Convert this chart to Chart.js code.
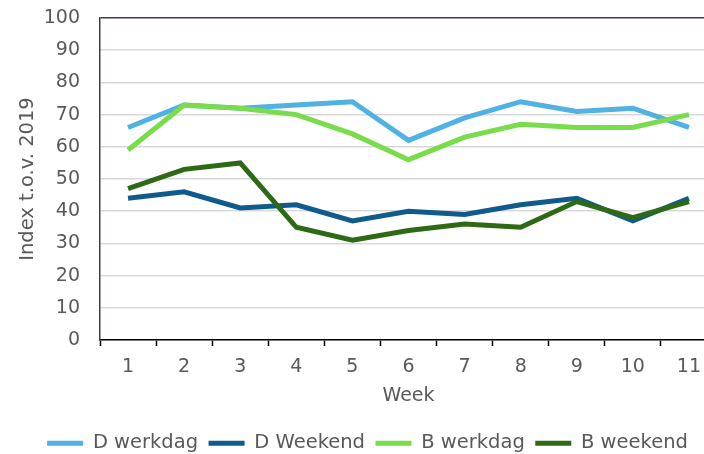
<!DOCTYPE html>
<html lang="nl">
<head>
<meta charset="utf-8">
<title>Index t.o.v. 2019 per week</title>
<script src="https://cdn.jsdelivr.net/npm/chart.js@4/dist/chart.umd.min.js"></script>
<style>
    html, body { margin: 0; padding: 0; background: #fff; overflow: hidden; }
    #wrap { width: 720px; height: 454px; }
</style>
</head>
<body>
<div id="wrap"><canvas id="weekChart" width="720" height="454"></canvas></div>
<script>
// Data
const weken = ['1', '2', '3', '4', '5', '6', '7', '8', '9', '10', '11'];
const dWerkdag = [66, 73, 72, 73, 74, 62, 69, 74, 71, 72, 66];
const dWeekend = [44, 46, 41, 42, 37, 40, 39, 42, 44, 37, 44];
const bWerkdag = [59, 73, 72, 70, 64, 56, 63, 67, 66, 66, 70];
const bWeekend = [47, 53, 55, 35, 31, 34, 36, 35, 43, 38, 43];
const seriesNamen = ['D werkdag', 'D Weekend', 'B werkdag', 'B weekend'];

const kleuren = ['#4fb1e4', '#0e5b8c', '#79dc4b', '#2e6a16'];
const tekstKleur = '#595959';
const asPaars = '#4a3457';
const fontFamily = '"DejaVu Sans", Verdana, sans-serif';

function maakLijn(i, data) {
    return {
        label: seriesNamen[i],
        data: data,
        borderColor: kleuren[i],
        backgroundColor: kleuren[i],
        borderWidth: 5,
        pointRadius: 0,
        tension: 0,
        order: 4 - i // latere reeks bovenop, zoals in Excel
    };
}

// Legenda iets naar rechts schuiven zodat hij gelijk valt met het origineel
const legendaShift = {
    id: 'legendaShift',
    afterLayout(chart) {
        chart.legend.left += 9;
        chart.legend.right += 9;
    }
};

document.addEventListener("DOMContentLoaded", () => {
    const ctx = document.getElementById('weekChart').getContext('2d');

    new Chart(ctx, {
        type: 'line',
        data: {
            labels: weken,
            datasets: [
                maakLijn(0, dWerkdag),
                maakLijn(1, dWeekend),
                maakLijn(2, bWerkdag),
                maakLijn(3, bWeekend)
            ]
        },
        plugins: [legendaShift],
        options: {
            responsive: false,
            animation: false,
            layout: { padding: { top: 18, right: 3, bottom: 0, left: 0 } },
            plugins: {
                tooltip: { enabled: false },
                legend: {
                    position: 'bottom',
                    maxHeight: 31,
                    labels: {
                        color: tekstKleur,
                        font: { family: fontFamily, size: 19.5 },
                        boxWidth: 36,
                        boxHeight: 5,
                        padding: 10.5,
                        sort: (a, b) => a.datasetIndex - b.datasetIndex,
                        generateLabels: (chart) => {
                            const items = Chart.defaults.plugins.legend.labels.generateLabels(chart);
                            items.forEach(it => { it.lineWidth = 0; });
                            return items;
                        }
                    }
                }
            },
            scales: {
                x: {
                    offset: true,
                    grid: {
                        offset: true,
                        drawOnChartArea: false,
                        drawTicks: true,
                        tickLength: 6,
                        tickColor: '#000',
                        tickWidth: 1.5
                    },
                    border: { color: '#000', width: 1.5 },
                    ticks: {
                        color: tekstKleur,
                        padding: 10,
                        maxRotation: 0,
                        font: { family: fontFamily, size: 19 }
                    },
                    title: {
                        display: true,
                        text: 'Week',
                        color: tekstKleur,
                        font: { family: fontFamily, size: 19 },
                        padding: { top: 0, bottom: 16 }
                    },
                    afterFit: (scale) => { scale.height = 83; }
                },
                y: {
                    min: 0,
                    max: 100,
                    ticks: {
                        stepSize: 10,
                        color: tekstKleur,
                        padding: 20,
                        font: { family: fontFamily, size: 19 }
                    },
                    grid: {
                        drawTicks: false,
                        color: (c) => c.tick && c.tick.value === 100 ? asPaars : '#d9d9d9',
                        lineWidth: 1.5
                    },
                    border: { color: asPaars, width: 1.5 },
                    title: {
                        display: true,
                        text: 'Index t.o.v. 2019',
                        color: tekstKleur,
                        font: { family: fontFamily, size: 19.5 },
                        padding: { top: 16, bottom: 0 }
                    },
                    afterFit: (scale) => {
                        scale.width = 100;
                        // ticks.padding telt anders mee boven/onder de as
                        scale.paddingTop = 0;
                        scale.paddingBottom = 0;
                    }
                }
            }
        }
    });
});
</script>
</body>
</html>
